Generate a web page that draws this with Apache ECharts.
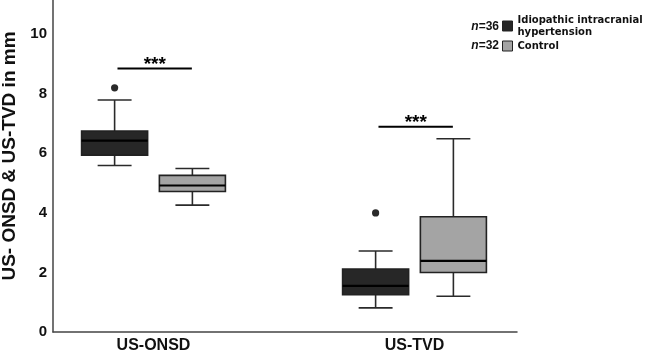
<!DOCTYPE html>
<html>
<head>
<meta charset="utf-8">
<script src="https://cdn.jsdelivr.net/npm/echarts@6/dist/echarts.min.js"></script>
<style>
html, body { margin: 0; padding: 0; background: #fff; }
#main { width: 645px; height: 353px; }
</style>
</head>
<body>
<div id="main"></div>
<script>
const categories = ['US-ONSD', 'US-TVD'];
const groupNames = ['Idiopathic intracranial\nhypertension', 'Control'];
const groupN = [36, 32];
// each row: [lower whisker, Q1, median, Q3, upper whisker]
const iihBox = [[5.59, 5.94, 6.43, 6.75, 7.79], [0.81, 1.25, 1.55, 2.11, 2.72]];
const controlBox = [[4.26, 4.72, 4.92, 5.26, 5.49], [1.20, 2.00, 2.39, 3.87, 6.49]];
// [category index, value]
const iihOutliers = [[0, 8.20], [1, 4.00]];
const sigLevels = [8.85, 6.89];
const sigMarks = ['***', '***'];
const yTicks = [0, 2, 4, 6, 8, 10];
const yMax = 11.15;

const FONT = 'Arial, "Liberation Sans", sans-serif';
const colors = ['#272727', '#a4a4a4'];

let chartDom = document.getElementById('main');
let myChart = echarts.init(chartDom, null, { renderer: 'canvas' });

// distance between the two category centres, in px
function unit(api) {
  return api.coord([1, 0])[0] - api.coord([0, 0])[0];
}

function boxRenderer(shift, fill) {
  return function (params, api) {
    const u = unit(api);
    const cx = api.coord([api.value(0), 0])[0] + shift * u;
    const w = u * 0.253;
    const cap = u * 0.13;
    const y = [1, 2, 3, 4, 5].map(i => api.coord([api.value(0), api.value(i)])[1]);
    const wStyle = { stroke: '#2a2a2a', lineWidth: 1.6 };
    return {
      type: 'group',
      children: [
        { type: 'line', shape: { x1: cx, y1: y[4], x2: cx, y2: y[3] }, style: wStyle },
        { type: 'line', shape: { x1: cx, y1: y[1], x2: cx, y2: y[0] }, style: wStyle },
        { type: 'line', shape: { x1: cx - cap / 2, y1: y[4], x2: cx + cap / 2, y2: y[4] }, style: wStyle },
        { type: 'line', shape: { x1: cx - cap / 2, y1: y[0], x2: cx + cap / 2, y2: y[0] }, style: wStyle },
        { type: 'rect', shape: { x: cx - w / 2, y: y[3], width: w, height: y[1] - y[3] },
          style: { fill: fill, stroke: '#222', lineWidth: 1.6 } },
        { type: 'line', shape: { x1: cx - w / 2, y1: y[2], x2: cx + w / 2, y2: y[2] },
          style: { stroke: '#000', lineWidth: 2.2 } }
      ]
    };
  };
}

function outlierRenderer(shift) {
  return function (params, api) {
    const u = unit(api);
    const p = api.coord([api.value(0), api.value(1)]);
    return { type: 'circle', shape: { cx: p[0] + shift * u, cy: p[1], r: 3.6 }, style: { fill: '#2a2a2a' } };
  };
}

function sigRenderer(params, api) {
  const u = unit(api);
  const p = api.coord([api.value(0), api.value(1)]);
  return {
    type: 'group',
    children: [
      { type: 'line', shape: { x1: p[0] - 0.138 * u, y1: p[1], x2: p[0] + 0.147 * u, y2: p[1] },
        style: { stroke: '#000', lineWidth: 2 } },
      { type: 'text', x: p[0] + 0.005 * u, y: p[1] - 4,
        style: { text: sigMarks[params.dataIndex], align: 'center', verticalAlign: 'middle',
                 fontFamily: FONT, fontWeight: 'bold', fontSize: 19, fill: '#000' } }
    ]
  };
}

let option = {
  backgroundColor: '#fff',
  animation: false,
  grid: [
    { left: 53, top: 0, width: 464, height: 332, outerBoundsMode: 'none', containLabel: false },
    { left: 23, top: 0, width: 522, height: 332, outerBoundsMode: 'none', containLabel: false }
  ],
  xAxis: [
    { gridIndex: 0, type: 'value', min: 0, max: 1,
      axisLine: { show: true, onZero: false, lineStyle: { color: '#444', width: 1.5 } },
      axisTick: { show: false }, axisLabel: { show: false }, splitLine: { show: false } },
    { gridIndex: 1, type: 'category', data: categories,
      axisLine: { show: false }, axisTick: { show: false }, splitLine: { show: false },
      axisLabel: { margin: 6, color: '#111', fontFamily: FONT, fontWeight: 'bold', fontSize: 16 } }
  ],
  yAxis: [
    { gridIndex: 0, type: 'value', min: yTicks[0], max: yMax, interval: yTicks[1] - yTicks[0],
      name: 'US- ONSD & US-TVD in mm', nameLocation: 'middle', nameGap: 33,
      nameTextStyle: { color: '#111', fontFamily: FONT, fontWeight: 'bold', fontSize: 19, padding: [0, 0, 0, 20] },
      axisLine: { show: true, lineStyle: { color: '#444', width: 1.5 } },
      axisTick: { show: false }, splitLine: { show: false },
      axisLabel: { margin: 6, color: '#111', fontFamily: FONT, fontWeight: 'bold', fontSize: 15, showMaxLabel: false } },
    { gridIndex: 1, type: 'value', min: yTicks[0], max: yMax, show: false, splitLine: { show: false } }
  ],
  legend: {
    data: groupNames, orient: 'vertical', left: 502, top: 14, padding: 0,
    icon: 'rect', itemWidth: 10, itemHeight: 10, itemGap: 2, selectedMode: false,
    itemStyle: { borderColor: '#222', borderWidth: 1 },
    textStyle: { color: '#111', fontFamily: 'DejaVu Sans', fontWeight: 'bold', fontSize: 10, lineHeight: 12 }
  },
  graphic: groupN.map((n, i) => ({
    type: 'text', x: 499, y: [27, 46][i],
    style: {
      text: '{i|n}=' + n, align: 'right', verticalAlign: 'middle',
      fontFamily: FONT, fontWeight: 'bold', fontSize: 12, fill: '#111',
      rich: { i: { fontStyle: 'italic', fontWeight: 'bold', fontFamily: FONT, fontSize: 12, fill: '#111' } }
    }
  })),
  series: [
    { name: groupNames[0], type: 'custom', xAxisIndex: 1, yAxisIndex: 1,
      itemStyle: { color: colors[0] },
      renderItem: boxRenderer(-0.149, colors[0]),
      encode: { x: 0, y: [1, 2, 3, 4, 5] },
      data: iihBox.map((b, i) => [i].concat(b)) },
    { name: groupNames[1], type: 'custom', xAxisIndex: 1, yAxisIndex: 1,
      itemStyle: { color: colors[1] },
      renderItem: boxRenderer(0.149, colors[1]),
      encode: { x: 0, y: [1, 2, 3, 4, 5] },
      data: controlBox.map((b, i) => [i].concat(b)) },
    { type: 'custom', xAxisIndex: 1, yAxisIndex: 1,
      renderItem: outlierRenderer(-0.149),
      encode: { x: 0, y: 1 },
      data: iihOutliers },
    { type: 'custom', xAxisIndex: 1, yAxisIndex: 1,
      renderItem: sigRenderer,
      encode: { x: 0, y: 1 },
      data: sigLevels.map((v, i) => [i, v]) }
  ]
};

option && myChart.setOption(option);
</script>
</body>
</html>
